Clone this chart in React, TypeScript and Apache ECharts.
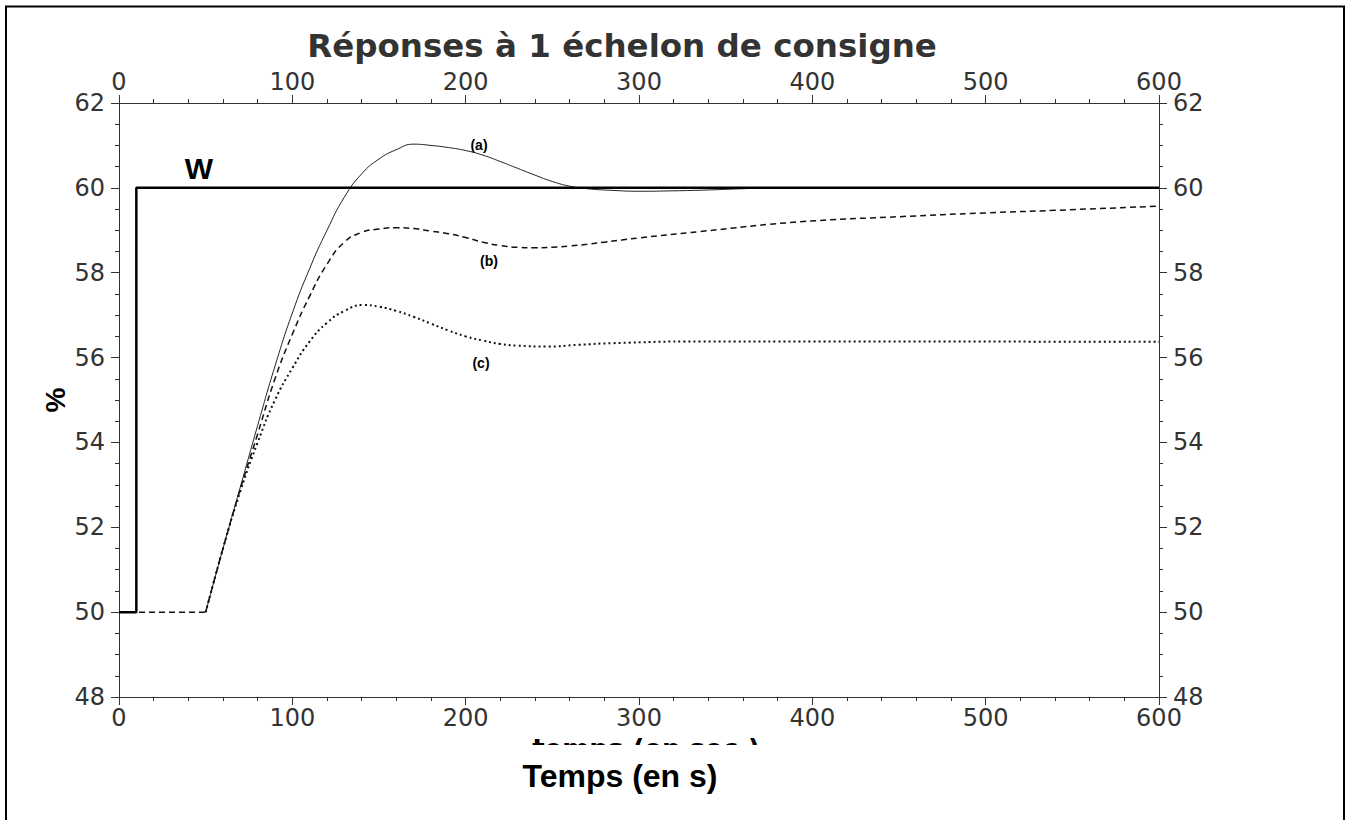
import React, { useEffect, useRef } from "react";
import * as echarts from "echarts";

// Tick settings
const xMin = 0;
const xMax = 600;
const xInterval = 100;
const yMin = 48;
const yMax = 62;
const yInterval = 2;

// Set-point W
const timesW = [0, 10, 10, 600];
const valuesW = [50, 50, 60, 60];

// Initial steady state of the responses (shown dashed)
const timesFlat = [0, 50];
const valuesFlat = [50, 50];

// Response (a) – solid
const timesA = [50, 60, 70, 80, 90, 100, 110, 120, 130, 140, 150, 160, 170, 180, 190, 200, 210, 220, 230, 240, 250, 260, 270, 285, 300, 320, 340, 360, 380, 600];
const valuesA = [50, 51.5, 52.95, 54.4, 55.8, 57.05, 58.1, 59.0, 59.78, 60.33, 60.68, 60.9, 61.03, 61.0, 60.95, 60.88, 60.77, 60.62, 60.46, 60.3, 60.15, 60.04, 59.98, 59.94, 59.92, 59.93, 59.95, 59.98, 60.0, 60.0];

// Response (b) – dashed
const timesB = [50, 60, 70, 80, 90, 100, 110, 120, 130, 140, 150, 160, 170, 180, 190, 200, 210, 220, 230, 240, 250, 260, 270, 280, 290, 300, 335, 393, 450, 500, 540, 600];
const valuesB = [50, 51.5, 52.9, 54.2, 55.5, 56.55, 57.45, 58.2, 58.72, 58.95, 59.03, 59.06, 59.04, 58.98, 58.92, 58.83, 58.72, 58.64, 58.6, 58.59, 58.6, 58.63, 58.67, 58.72, 58.77, 58.82, 58.97, 59.2, 59.32, 59.41, 59.47, 59.57];

// Response (c) – dotted
const timesC = [50, 60, 70, 80, 90, 100, 110, 120, 130, 141, 150, 160, 170, 180, 190, 200, 210, 220, 230, 247, 265, 285, 335, 400, 600];
const valuesC = [50, 51.5, 52.85, 54.0, 55.0, 55.75, 56.38, 56.82, 57.1, 57.24, 57.2, 57.1, 56.96, 56.8, 56.64, 56.5, 56.4, 56.32, 56.28, 56.26, 56.3, 56.34, 56.38, 56.38, 56.37];

const zip = (t: number[], v: number[]) => t.map((x, i) => [x, v[i]]);

const axisColor = "#333";
const labelStyle = { fontSize: 24, color: "#333", fontFamily: "DejaVu Sans" };

function makeX(position: "top" | "bottom") {
  return {
    type: "value",
    position,
    min: xMin,
    max: xMax,
    interval: xInterval,
    axisLine: { show: true, onZero: false, lineStyle: { color: axisColor, width: 1 } },
    axisTick: { show: true, inside: false, length: 8, lineStyle: { color: axisColor } },
    minorTick: { show: true, splitNumber: 5, length: 4, lineStyle: { color: axisColor } },
    splitLine: { show: false },
    axisLabel: { ...labelStyle, margin: 9 },
  };
}

function makeY(position: "left" | "right") {
  return {
    type: "value",
    position,
    min: yMin,
    max: yMax,
    interval: yInterval,
    axisLine: { show: true, onZero: false, lineStyle: { color: axisColor, width: 1 } },
    axisTick: { show: true, inside: false, length: 8, lineStyle: { color: axisColor } },
    minorTick: { show: true, splitNumber: 4, length: 4, lineStyle: { color: axisColor } },
    splitLine: { show: false },
    axisLabel: { ...labelStyle, margin: 14 },
  };
}

function txt(text: string, x: number, y: number, font: string, size: number, extra: any = {}) {
  return {
    type: "text",
    x,
    y,
    ...extra,
    style: {
      text,
      fontFamily: font,
      fontSize: size,
      fontWeight: "bold",
      fill: extra.fill || "#000",
      align: "center",
      verticalAlign: "middle",
      textAlign: "center",
      textVerticalAlign: "middle",
    },
  };
}

const lineBase = { type: "line", showSymbol: false, symbol: "none" };

export default function App() {
  const ref = useRef<HTMLDivElement>(null);
  useEffect(() => {
    if (!ref.current) return;
    const chart = echarts.init(ref.current, null, { renderer: "svg" });
    chart.setOption({
      animation: false,
      backgroundColor: "#fff",
      grid: { left: 119, right: 186, top: 103, bottom: 123, containLabel: false },
      xAxis: [makeX("bottom"), makeX("top")],
      yAxis: [makeY("left"), makeY("right")],
      series: [
        {
          ...lineBase,
          name: "W",
          data: zip(timesW, valuesW),
          lineStyle: { color: "#000", width: 2.5 },
          z: 5,
        },
        {
          ...lineBase,
          name: "initial",
          data: zip(timesFlat, valuesFlat),
          lineStyle: { color: "#111", width: 1.5, type: [6, 4] },
          z: 4,
        },
        {
          ...lineBase,
          name: "(a)",
          data: zip(timesA, valuesA),
          smooth: 0.5,
          lineStyle: { color: "#222", width: 1 },
          z: 3,
        },
        {
          ...lineBase,
          name: "(b)",
          data: zip(timesB, valuesB),
          smooth: 0.5,
          lineStyle: { color: "#111", width: 1.5, type: [6, 4] },
          z: 4,
        },
        {
          ...lineBase,
          name: "(c)",
          data: zip(timesC, valuesC),
          smooth: 0.5,
          lineStyle: { color: "#111", width: 2, type: [2, 3] },
          z: 3,
        },
      ],
      graphic: {
        elements: [
          {
            type: "rect",
            shape: { x: 6, y: 6.5, width: 1338, height: 840 },
            style: { fill: "none", stroke: "#000", lineWidth: 2 },
            silent: true,
          },
          txt("Réponses à 1 échelon de consigne", 622, 46, "DejaVu Sans", 32.5, { fill: "#333" }),
          txt("temps (en sec.)", 646, 749, "DejaVu Sans", 26),
          {
            type: "rect",
            shape: { x: 300, y: 745, width: 700, height: 70 },
            style: { fill: "#fff", stroke: "none" },
            silent: true,
          },
          txt("Temps (en s)", 620, 776, "Liberation Sans", 32),
          txt("%", 55, 400, "Liberation Sans", 28, { rotation: Math.PI / 2 }),
          txt("W", 199, 168, "Liberation Sans", 30),
          txt("(a)", 479, 145, "Liberation Sans", 14),
          txt("(b)", 489, 261, "Liberation Sans", 14),
          txt("(c)", 481, 363, "Liberation Sans", 14),
        ],
      },
    });
    return () => chart.dispose();
  }, []);
  return (
    <div
      ref={ref}
      style={{ position: "absolute", left: 0, top: 0, width: 1345, height: 820 }}
    />
  );
}
